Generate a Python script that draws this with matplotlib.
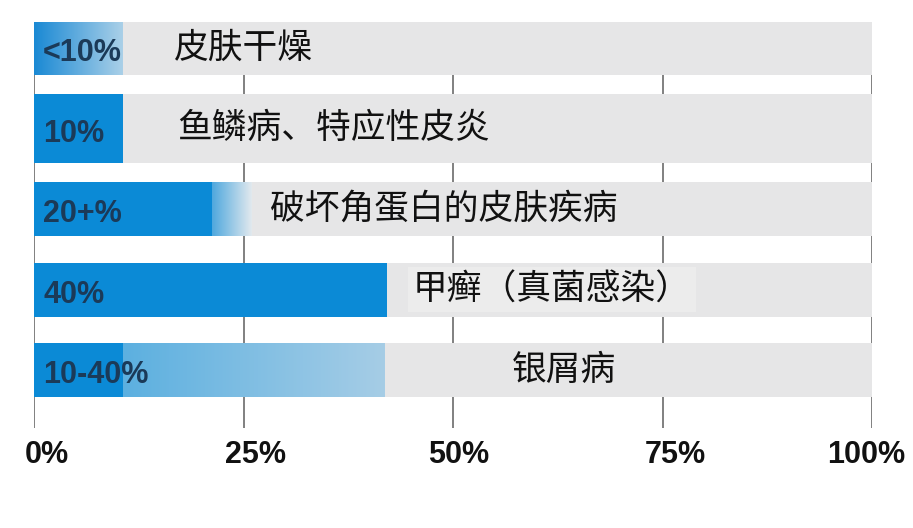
import numpy as np
import matplotlib
matplotlib.use("Agg")
import matplotlib.pyplot as plt
import matplotlib.transforms as mtransforms
from matplotlib.colors import to_rgb

# ---- data ----
categories = ['皮肤干燥', '鱼鳞病、特应性皮炎', '破坏角蛋白的皮肤疾病', '甲癣（真菌感染）', '银屑病']
pct_labels = ['<10%', '10%', '20+%', '40%', '10-40%']
solid_end = [0.0, 10.6, 21.3, 42.1, 10.6]     # end of solid blue part (%)
fade_end = [10.6, 10.6, 26.0, 42.1, 41.8]     # end of gradient part (%)
xticks = [0, 25, 50, 75, 100]
xtick_labels = ['0%', '25%', '50%', '75%', '100%']

# ---- layout / style ----
label_x = [16.7, 17.1, 28.2, 45.2, 57.0]
bar_heights = [0.67, 0.86, 0.67, 0.67, 0.67]
tick_label_shift_px = [13, 12, 6, 13, -6]
grad_colors = [('#1a89d4', '#aad0e8'), None, ('#4fa8de', '#e2e9ee'), None, ('#5cb0e0', '#a6cde6')]
BLUE = '#0b8ad6'
GRAY = '#e6e6e7'
PCT_COLOR = '#1b3a58'

fig = plt.figure(figsize=(9.13, 5.28), dpi=100)
ax = fig.add_axes([34 / 913, 1 - 428 / 528, 838 / 913, 406 / 528])

y = np.arange(len(categories))

# background gray bars
ax.barh(y, [100] * len(y), height=bar_heights, color=GRAY, zorder=1, linewidth=0)
# solid blue parts
ax.barh(y, solid_end, height=bar_heights, color=BLUE, zorder=2, linewidth=0)

# gradient parts
for i in range(len(y)):
    if grad_colors[i] is None or fade_end[i] <= solid_end[i]:
        continue
    c0 = np.array(to_rgb(grad_colors[i][0]))
    c1 = np.array(to_rgb(grad_colors[i][1]))
    t = np.linspace(0, 1, 256)[None, :, None]
    img = c0[None, None, :] * (1 - t) + c1[None, None, :] * t
    h = bar_heights[i]
    ax.imshow(img, extent=(solid_end[i], fade_end[i], y[i] + h / 2, y[i] - h / 2),
              aspect='auto', interpolation='bilinear', zorder=2)

# percentage labels
for i in range(len(y)):
    ax.text(1.1, y[i] + 0.06, pct_labels[i], ha='left', va='center',
            fontsize=22, fontweight='bold', family=['Liberation Sans', 'DejaVu Sans'],
            color=PCT_COLOR, zorder=4)

# category labels
for i in range(len(y)):
    kw = {}
    if i == 3:
        kw['bbox'] = dict(boxstyle='square,pad=0.15', facecolor='#ececec', edgecolor='none')
    ax.text(label_x[i], y[i], categories[i], ha='left', va='center', fontsize=25,
            family=['Noto Sans CJK SC', 'DejaVu Sans'], fontweight='medium',
            color='#111111', zorder=4, **kw)

ax.set_xlim(0, 100)
ax.set_ylim(4.72, -0.33)
ax.set_xticks(xticks)
ax.set_xticklabels([])
ax.tick_params(axis='x', length=0)
ax.set_yticks([])

# tick labels drawn as text (slightly offset as in the reference)
blend = mtransforms.blended_transform_factory(ax.transData, ax.transAxes)
for xv, lab, dx in zip(xticks, xtick_labels, tick_label_shift_px):
    tr = blend + mtransforms.ScaledTranslation(dx / 100, 0, fig.dpi_scale_trans)
    ax.text(xv, -27 / 406, lab, transform=tr, ha='center', va='center',
            fontsize=22, fontweight='bold', family=['Liberation Sans', 'DejaVu Sans'],
            color='#111111', clip_on=False)

ax.xaxis.grid(True, color='#5e5e5e', linewidth=1.1)
ax.set_axisbelow(True)
for s in ax.spines.values():
    s.set_visible(False)

fig.savefig('out.png', dpi=100, facecolor='white')
